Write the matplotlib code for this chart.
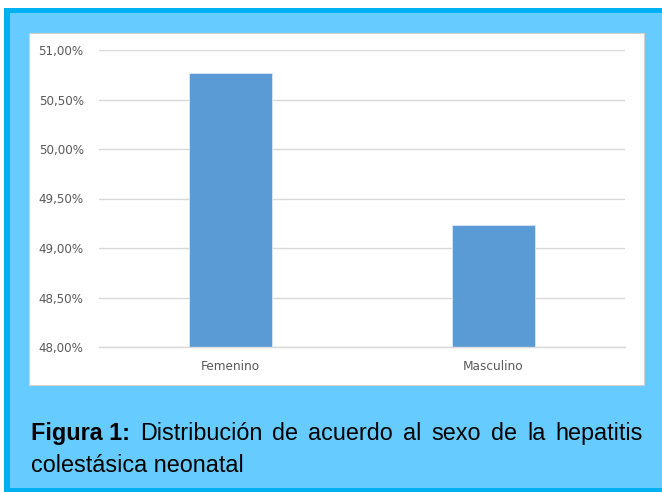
import matplotlib
matplotlib.use('Agg')
import matplotlib.pyplot as plt
import matplotlib.patches as mpatches

# ── Data ──────────────────────────────────────────────────────────────────────
categories = ['Femenino', 'Masculino']
values = [50.77, 49.23]          # % por sexo
yticks = [48.0, 48.5, 49.0, 49.5, 50.0, 50.5, 51.0]
ytick_labels = [f'{v:.2f}%'.replace('.', ',') for v in yticks]

caption_bold = 'Figura 1:'
caption_line1 = 'Distribución de acuerdo al sexo de la hepatitis'
caption_line2 = 'colestásica neonatal'

W, H = 662, 492
fig = plt.figure(figsize=(W / 100, H / 100), dpi=100)
fig.patch.set_facecolor('white')


def px(x, y):
    """pixel coords (top-left origin) -> figure fraction"""
    return x / W, 1 - y / H


def rect(x0, y0, x1, y1, **kw):
    fx, fy = px(x0, y1)
    r = mpatches.Rectangle((fx, fy), (x1 - x0) / W, (y1 - y0) / H,
                           transform=fig.transFigure, **kw)
    fig.add_artist(r)
    return r


# ── Frame: dark border, light blue box, white chart panel ────────────────────
rect(4, 8, W + 10, H + 10, facecolor='#00B0F0', edgecolor='none', zorder=0)
rect(10, 13, W + 10, 488, facecolor='#66CCFF', edgecolor='none', zorder=0.1)
rect(29, 33, 644, 385, facecolor='white', edgecolor='#D0D0D0', lw=0.8, zorder=0.2)

# ── Bar chart ────────────────────────────────────────────────────────────────
ax = fig.add_axes([99 / W, (H - 347) / H, 526 / W, 297 / H])
ax.set_zorder(2)
ax.set_facecolor('none')
ax.bar(categories, values, width=0.316, color='#5B9BD5',
       edgecolor='#DDE8F5', lw=0.6, zorder=3)
ax.set_xlim(-0.5, 1.5)
ax.set_ylim(48, 51)
ax.set_yticks(yticks)
ax.set_yticklabels(ytick_labels)
ax.yaxis.grid(True, color='#D9D9D9', lw=1.0, zorder=0)
ax.set_axisbelow(True)
for s in ax.spines.values():
    s.set_visible(False)
ax.spines['bottom'].set_visible(True)
ax.spines['bottom'].set_color('#D9D9D9')
ax.spines['bottom'].set_linewidth(1.0)
ax.spines['bottom'].set_zorder(4)
ax.tick_params(axis='y', length=0, pad=11, labelsize=8.6, labelcolor='#595959')
ax.tick_params(axis='x', length=0, pad=9, labelsize=8.7, labelcolor='#595959')

# ── Caption (justified first line) ───────────────────────────────────────────
fs = 16.8
fam = 'Liberation Sans'
left, right = 31, 643
base1, base2 = 440, 472

renderer = fig.canvas.get_renderer()
words = [(caption_bold, 'bold')] + [(w, 'normal') for w in caption_line1.split()]
texts = []
for w, wt in words:
    t = fig.text(0, px(0, base1)[1], w, fontsize=fs, family=fam, fontweight=wt,
                 va='baseline', ha='left', color='black', zorder=5)
    texts.append(t)
widths = [t.get_window_extent(renderer).width for t in texts]
gap = (right - left - sum(widths)) / (len(texts) - 1)
x = left
for t, wd in zip(texts, widths):
    t.set_x(x / W)
    x += wd + gap

fig.text(left / W, px(0, base2)[1], caption_line2, fontsize=fs, family=fam,
         va='baseline', ha='left', color='black', zorder=5)

fig.savefig('out.png', dpi=100)
